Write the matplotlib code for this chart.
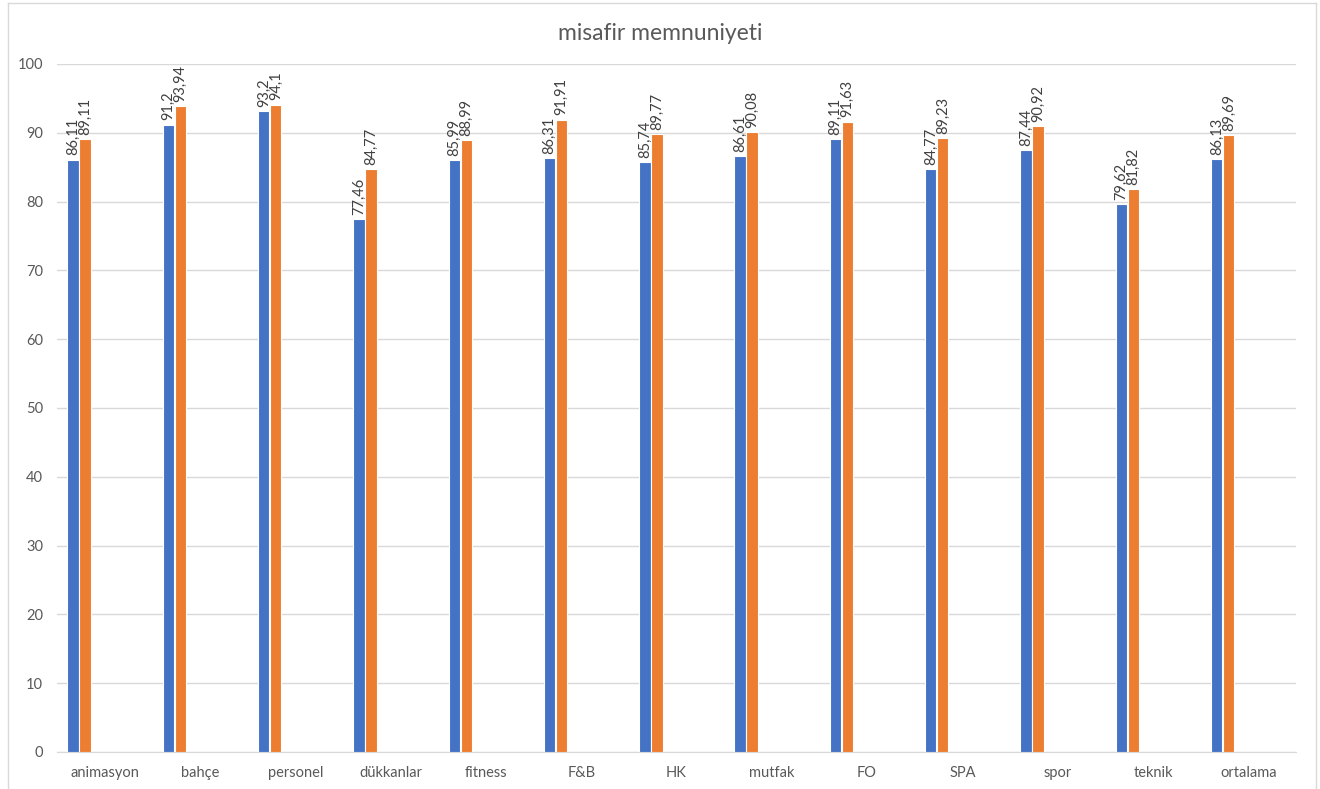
import numpy as np
import matplotlib.pyplot as plt
from matplotlib.lines import Line2D

# data
categories = ['animasyon', 'bahçe', 'personel', 'dükkanlar', 'fitness', 'F&B', 'HK',
              'mutfak', 'FO', 'SPA', 'spor', 'teknik', 'ortalama']
series_1 = [86.11, 91.2, 93.2, 77.46, 85.99, 86.31, 85.74, 86.61, 89.11, 84.77, 87.44, 79.62, 86.13]
series_2 = [89.11, 93.94, 94.1, 84.77, 88.99, 91.91, 89.77, 90.08, 91.63, 89.23, 90.92, 81.82, 89.69]
y_ticks = list(range(0, 101, 10))

plt.rcParams['font.family'] = ['Lato', 'DejaVu Sans']
text_color = '#595959'

fig = plt.figure(figsize=(13.2, 7.89), dpi=100)
ax = fig.add_axes([0.0432, 0.0469, 0.9386, 0.872])

x = np.arange(len(categories))
width = 0.12
bars1 = ax.bar(x - 0.332, series_1, width, color='#4472C4', edgecolor='white', linewidth=0.8, zorder=3)
bars2 = ax.bar(x - 0.206, series_2, width, color='#ED7D31', edgecolor='white', linewidth=0.8, zorder=3)

def fmt(v):
    return f'{v:g}'.replace('.', ',')

for bars, vals in [(bars1, series_1), (bars2, series_2)]:
    for b, v in zip(bars, vals):
        ax.annotate(fmt(v), (b.get_x() + b.get_width() / 2, v), xytext=(0, 3),
                    textcoords='offset points', rotation=90, ha='center', va='bottom',
                    fontsize=10.5, color='#404040')

ax.set_xlim(-0.5, len(categories) - 0.5)
ax.set_ylim(0, 100)
ax.set_yticks(y_ticks)
ax.set_xticks(x)
ax.set_xticklabels(categories)
ax.tick_params(axis='both', length=0, labelsize=10.5, colors=text_color)
ax.tick_params(axis='x', pad=10)
ax.tick_params(axis='y', pad=10)
ax.grid(axis='y', color='#d9d9d9', linewidth=1, zorder=0)
for s in ['top', 'right', 'left']:
    ax.spines[s].set_visible(False)
ax.spines['bottom'].set_color('#d9d9d9')

fig.text(0.5, 0.958, 'misafir memnuniyeti', ha='center', va='center', fontsize=16.5, color=text_color)

# outer chart border
for xs, ys in [([0.006, 0.006], [0, 0.996]), ([0.997, 0.997], [0, 0.996]), ([0.006, 0.997], [0.996, 0.996])]:
    fig.add_artist(Line2D(xs, ys, color='#d9d9d9', linewidth=1, transform=fig.transFigure))

fig.savefig('out.png', dpi=100)
